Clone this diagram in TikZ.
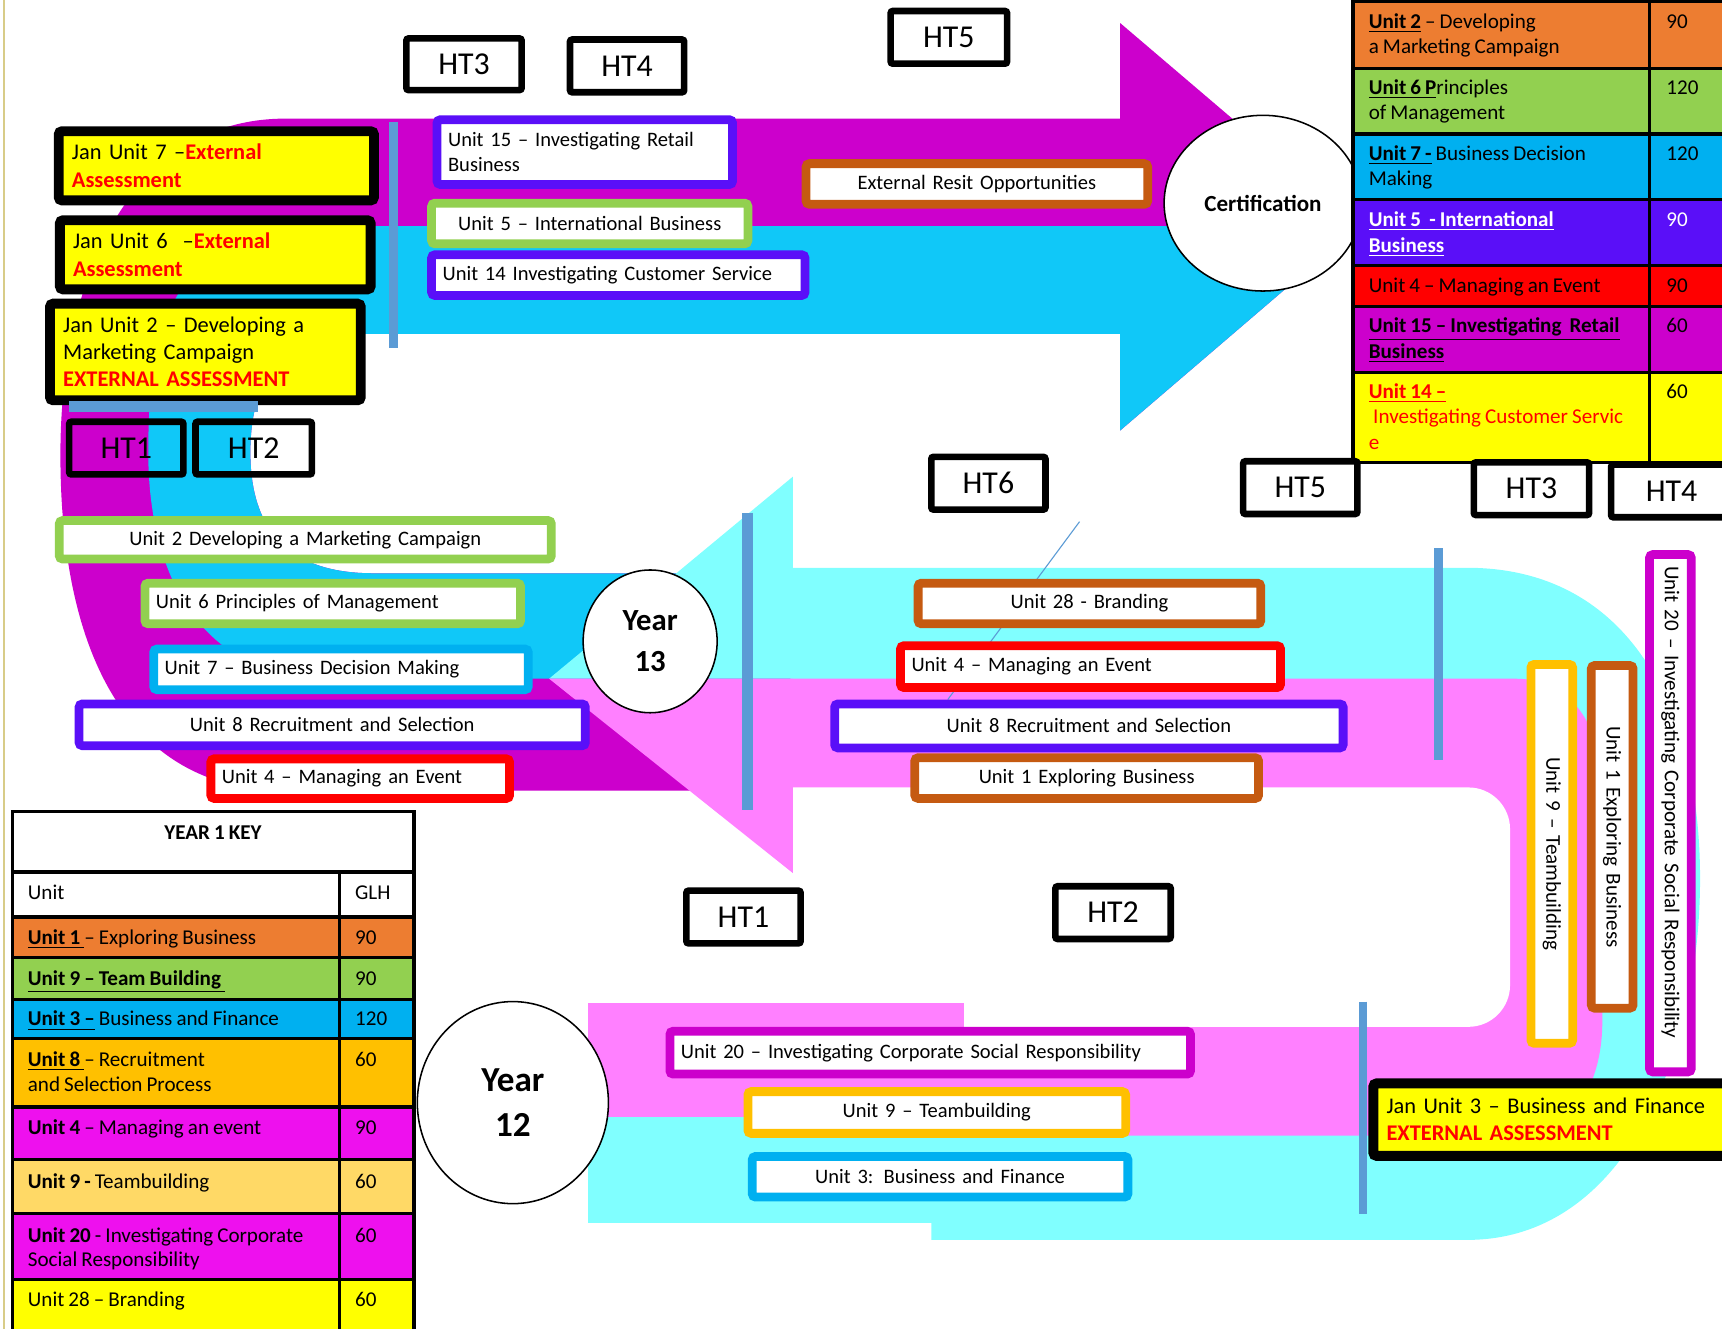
\documentclass[tikz,border=0pt]{standalone}
\usepackage{fontspec}
\setmainfont{Carlito}[WordSpace=0.85]
\usetikzlibrary{shapes.geometric}
\definecolor{amag}{HTML}{CC00CC}
\definecolor{acyan}{HTML}{10C8F8}
\definecolor{bcyan}{HTML}{80FFFF}
\definecolor{bpink}{HTML}{FF80FF}
\definecolor{bline}{HTML}{5B9BD5}
\definecolor{upurple}{HTML}{5A0FF8}
\definecolor{ugreen}{HTML}{92D050}
\definecolor{ublue}{HTML}{00B0F0}
\definecolor{ured}{HTML}{FF0000}
\definecolor{ubrown}{HTML}{C55A11}
\definecolor{uamber}{HTML}{FFC000}
\definecolor{korange}{HTML}{ED7D31}
\definecolor{kmag}{HTML}{EE10EE}
\definecolor{klight}{HTML}{FFD966}
\definecolor{kyellow}{HTML}{FFFF00}
\definecolor{pageedge}{HTML}{D8CC88}
\newcommand\myBF{\fontsize{9.35}{11.5}\selectfont}
\newcommand\myVF{\fontsize{9.6}{11.5}\selectfont}
\newcommand\myJF{\fontsize{10.2}{12.4}\selectfont}
\newcommand\myHF{\fontsize{14.5}{17}\selectfont}
\newcommand\myTF{\fontsize{9.6}{11.5}\selectfont}
\newcommand\myYF{\fontsize{14}{18.5}\selectfont\bfseries}
\newcommand\myYFb{\fontsize{16}{20.5}\selectfont\bfseries}
\newcommand\myCF{\fontsize{10.5}{12}\selectfont\bfseries}
% unit box: name x1 y1 x2 y2 colour align text
\newcommand\myUB[8]{%
  \pgfmathsetlengthmacro\myTW{(#4-#2-28)*0.5pt}%
  \pgfmathsetlengthmacro\myMW{(#4-#2-8)*0.5pt}%
  \pgfmathsetlengthmacro\myMH{(#5-#3-8)*0.5pt}%
  \node[ubox, draw=#6, align=#7, text width=\myTW, minimum width=\myMW, minimum height=\myMH] (#1) at ({(#2+#4)/2},{(#3+#5)/2}) {#8};}
% vertical unit box
\newcommand\myVB[8]{%
  \pgfmathsetlengthmacro\myTW{(#5-#3-28)*0.5pt}%
  \pgfmathsetlengthmacro\myMW{(#5-#3-8)*0.5pt}%
  \pgfmathsetlengthmacro\myMH{(#4-#2-8)*0.5pt}%
  \node[ubox, font=\myVF, draw=#6, rotate=-90, align=center, text width=\myTW, minimum width=\myMW, minimum height=\myMH] (#1) at ({(#2+#4)/2},{(#3+#5)/2}) {\hspace*{#7}#8};}
% Jan box
\newcommand\myJB[6]{%
  \pgfmathsetlengthmacro\myTW{(#4-#2-33)*0.5pt}%
  \pgfmathsetlengthmacro\myMW{(#4-#2-9)*0.5pt}%
  \pgfmathsetlengthmacro\myMH{(#5-#3-9)*0.5pt}%
  \node[jbox, text width=\myTW, minimum width=\myMW, minimum height=\myMH] (#1) at ({(#2+#4)/2},{(#3+#5)/2}) {#6};}
% HT box
\newcommand\myHT[7]{%
  \pgfmathsetlengthmacro\myMW{(#4-#2-6)*0.5pt}%
  \pgfmathsetlengthmacro\myMH{(#5-#3-6)*0.5pt}%
  \node[htbox, fill=#6, minimum width=\myMW, minimum height=\myMH] (#1) at ({(#2+#4)/2},{(#3+#5)/2}) {#7};}
\begin{document}
\begin{tikzpicture}[x=0.5pt,y=-0.5pt,
  ubox/.style={fill=white, line width=4pt, rounded corners=1.5pt, inner xsep=5pt, inner ysep=0pt, font=\myBF},
  jbox/.style={fill=kyellow, draw=black, line width=4.5pt, rounded corners=1.5pt, inner xsep=6pt, inner ysep=0pt, font=\myJF, align=left},
  htbox/.style={draw=black, line width=3pt, rounded corners=1pt, inner sep=0pt, font=\myHF},
  tx/.style={inner sep=0pt, anchor=base west, font=\myTF},
  circ/.style={ellipse, draw=black, line width=0.7pt, fill=white, inner sep=1pt, align=center},
  bluebar/.style={draw=bline, line width=4pt},
  tline/.style={draw=black, line width=1.4pt}]
\useasboundingbox (0,0) rectangle (1568,1210);
\fill[white] (0,0) rectangle (1568,1210);
\draw[pageedge, line width=1pt] (4,0) -- (4,1210);

% ---------- shape A (dark U-turn arrow, pointing right) ----------
\fill[amag] (1020,108) -- (260,108) .. controls (120,108) and (55,250) .. (55,414)
  .. controls (55,600) and (120,720) .. (260,720) -- (720,720) -- (720,522) -- (340,522)
  .. controls (260,522) and (228,480) .. (228,412) .. controls (228,340) and (260,304) .. (340,304)
  -- (1020,304) -- cycle;
\fill[amag] (1020,21) -- (1237,206) -- (1020,392) -- cycle;
\fill[acyan] (1022,206) -- (300,206) .. controls (160,206) and (135,290) .. (135,412)
  .. controls (135,520) and (180,618) .. (300,618) -- (720,618) -- (720,522) -- (340,522)
  .. controls (260,522) and (228,480) .. (228,412) .. controls (228,340) and (260,304) .. (340,304)
  -- (1022,304) -- cycle;
\fill[acyan] (1020,206) -- (1237,206) -- (1020,392) -- cycle;

% ---------- shape B (light U-turn arrow, pointing left) ----------
\fill[bcyan] (720,517) -- (1336,517) .. controls (1480,517) and (1548,640) .. (1548,800)
  .. controls (1548,960) and (1480,1129) .. (1336,1129) -- (848,1129) -- (848,935) -- (720,935) -- cycle;
\fill[bpink] (720,618) -- (1380,618) .. controls (1430,618) and (1459,660) .. (1459,720)
  -- (1459,930) .. controls (1459,990) and (1430,1034) .. (1380,1034) -- (878,1034) -- (878,935) -- (720,935) -- cycle;
\fill[white] (718,717) -- (1337,717) .. controls (1358,717) and (1375,734) .. (1375,755)
  -- (1375,897) .. controls (1375,918) and (1358,935) .. (1337,935) -- (718,935) -- cycle;
\fill[bcyan] (722,434) -- (500,618) -- (722,618) -- cycle;
\fill[bpink] (500,618) -- (722,795) -- (722,618) -- cycle;
\fill[bcyan] (535,1015) rectangle (878,1114);
\fill[bpink] (535,913) rectangle (878,1017);

% ---------- blue bars ----------
\draw[bluebar] (358,111) -- (358,317);
\draw[bluebar, line width=5pt] (681,467) -- (681,738);
\draw[bluebar] (1310,499) -- (1310,692);
\draw[bluebar] (1241,912) -- (1241,1105);
\coordinate (t1) at (983,475);
\coordinate (t2) at (863,637);
\draw[bline, line width=0.5pt] (t1) -- (t2);

% ---------- circles ----------
\node[circ, minimum width=61pt, minimum height=65pt, font=\myYF] (y13) at (592,584) {Year\\13};
\node[circ, minimum width=87pt, minimum height=92pt, font=\myYFb] (y12) at (467,1004) {Year\\12};
\node[circ, minimum width=90pt, minimum height=80pt, font=\myCF] (cert) at (1150,185) {Certification};

% ---------- top right table ----------
\fill[korange] (1232,0) rectangle (1580,62);
\fill[ugreen] (1232,62) rectangle (1580,122);
\fill[ublue] (1232,122) rectangle (1580,182);
\fill[upurple] (1232,182) rectangle (1580,242);
\fill[ured] (1232,242) rectangle (1580,279);
\fill[amag] (1232,279) rectangle (1580,339);
\fill[kyellow] (1232,339) rectangle (1580,421);
\foreach \yy in {1.5,62,122,182,242,279,339,421} \draw[tline] (1232,\yy) -- (1580,\yy);
\draw[tline] (1232,0) -- (1232,421);
\draw[tline] (1502,0) -- (1502,421);
\node[tx] (r1a) at (1246,26) {\underline{\textbf{Unit 2}} – Developing};
\node[tx] (r1b) at (1246,49) {a Marketing Campaign};
\node[tx] (r1c) at (1517,26) {90};
\node[tx] (r2a) at (1246,86) {\underline{\textbf{Unit 6 P}}rinciples};
\node[tx] (r2b) at (1246,109) {of Management};
\node[tx] (r2c) at (1517,86) {120};
\node[tx] (r3a) at (1246,146) {\underline{\textbf{Unit 7 -}} Business Decision};
\node[tx] (r3b) at (1246,169) {Making};
\node[tx] (r3c) at (1517,146) {120};
\node[tx, text=white] (r4a) at (1246,206) {\underline{\textbf{Unit 5\ \ - International}}};
\node[tx, text=white] (r4b) at (1246,230) {\underline{\textbf{Business}}};
\node[tx, text=white] (r4c) at (1517,206) {90};
\node[tx] (r5a) at (1246,266) {Unit 4 – Managing an Event};
\node[tx] (r5c) at (1517,266) {90};
\node[tx] (r6a) at (1246,303) {\underline{\textbf{Unit 15 – Investigating\ \ Retail}}};
\node[tx] (r6b) at (1246,326) {\underline{\textbf{Business}}};
\node[tx] (r6c) at (1517,303) {60};
\node[tx, text=ured] (r7a) at (1246,363) {\underline{\textbf{Unit 14 –}}};
\node[tx, text=ured] (r7b) at (1250,386) {Investigating Customer Servic};
\node[tx, text=ured] (r7d) at (1246,409) {e};
\node[tx] (r7c) at (1517,363) {60};

% ---------- key table ----------
\fill[white] (11,739) rectangle (377,835);
\fill[korange] (11,835) rectangle (377,872);
\fill[ugreen] (11,872) rectangle (377,910);
\fill[ublue] (11,910) rectangle (377,946);
\fill[uamber] (11,946) rectangle (377,1008);
\fill[kmag] (11,1008) rectangle (377,1056);
\fill[klight] (11,1056) rectangle (377,1105);
\fill[kmag] (11,1105) rectangle (377,1165);
\fill[kyellow] (11,1165) rectangle (377,1215);
\foreach \yy in {739,794,835,872,910,946,1008,1056,1105,1165} \draw[tline] (11,\yy) -- (377,\yy);
\draw[tline] (11,738) -- (11,1215);
\draw[tline] (377,738) -- (377,1215);
\draw[tline] (309,794) -- (309,1215);
\node[tx, anchor=base, font=\myTF\bfseries] (khead) at (194,764) {YEAR 1 KEY};
\node[tx] (kh1) at (25,819) {Unit};
\node[tx] (kh2) at (323,819) {GLH};
\node[tx] (k1) at (25,860) {\underline{\textbf{Unit 1\ }}– Exploring Business};
\node[tx] (k1g) at (323,860) {90};
\node[tx] (k2) at (25,897) {\underline{\textbf{Unit 9 – Team Building\ }}};
\node[tx] (k2g) at (323,897) {90};
\node[tx] (k3) at (25,934) {\underline{\textbf{Unit 3 –}} Business and Finance};
\node[tx] (k3g) at (323,934) {120};
\node[tx] (k4a) at (25,971) {\underline{\textbf{Unit 8\ }}– Recruitment};
\node[tx] (k4b) at (25,994) {and Selection Process};
\node[tx] (k4g) at (323,971) {60};
\node[tx] (k5) at (25,1033) {\textbf{Unit 4} – Managing an event};
\node[tx] (k5g) at (323,1033) {90};
\node[tx] (k6) at (25,1082) {\textbf{Unit 9 -} Teambuilding};
\node[tx] (k6g) at (323,1082) {60};
\node[tx] (k7a) at (25,1131) {\textbf{Unit 20} - Investigating Corporate};
\node[tx] (k7b) at (25,1153) {Social Responsibility};
\node[tx] (k7g) at (323,1131) {60};
\node[tx] (k8) at (25,1190) {Unit 28 – Branding};
\node[tx] (k8g) at (323,1190) {60};

% ---------- unit boxes ----------
\myUB{u15}{394}{105}{671}{172}{upurple}{left}{\mbox{Unit 15 – Investigating Retail}\\Business}
\myUB{u5}{389}{181}{685}{226}{ugreen}{center}{\mbox{Unit 5 – International Business}}
\myUB{u14}{389}{228}{737}{273}{upurple}{left}{\mbox{Unit 14 Investigating Customer Service}}
\myUB{resit}{730}{145}{1049}{190}{ubrown}{center}{\mbox{External Resit Opportunities}}
\myUB{u2}{50}{470}{506}{513}{ugreen}{center}{\mbox{Unit 2 Developing a Marketing Campaign}}
\myUB{u6}{128}{527}{478}{572}{ugreen}{left}{\mbox{Unit 6 Principles of Management}}
\myUB{u7}{136}{587}{485}{632}{ublue}{left}{\mbox{Unit 7 – Business Decision Making}}
\myUB{u8a}{68}{637}{537}{683}{upurple}{center}{\mbox{Unit 8 Recruitment and Selection}}
\myUB{u4a}{188}{687}{468}{731}{ured}{left}{\mbox{Unit 4 – Managing an Event}}
\myUB{u28}{832}{527}{1152}{572}{ubrown}{center}{\mbox{Unit 28 - Branding}}
\myUB{u4b}{816}{584}{1170}{630}{ured}{left}{\mbox{Unit 4 – Managing an Event}}
\myUB{u8b}{756}{637}{1227}{685}{upurple}{center}{\mbox{Unit 8 Recruitment and Selection}}
\myUB{u1}{829}{686}{1150}{731}{ubrown}{center}{\mbox{Unit 1 Exploring Business}}
\myUB{u20}{606}{935}{1088}{982}{amag}{left}{\mbox{Unit 20 – Investigating Corporate Social Responsibility}}
\myUB{u9}{677}{990}{1029}{1036}{uamber}{center}{\mbox{Unit 9 – Teambuilding}}
\myUB{u3}{681}{1049}{1031}{1094}{ublue}{center}{\mbox{Unit 3: Business and Finance}}
\myVB{v9}{1390}{601}{1436}{954}{uamber}{0pt}{\mbox{Unit 9 – Teambuilding}}
\myVB{v1}{1445}{602}{1491}{922}{ubrown}{0pt}{\mbox{Unit 1 Exploring Business}}
\myVB{v20}{1498}{501}{1544}{980}{amag}{-10pt}{\mbox{Unit 20 – Investigating Corporate Social Responsibility}}

% ---------- Jan boxes ----------
\myJB{j7}{49}{115}{345}{187}{\mbox{Jan Unit 7 –\textcolor{ured}{\textbf{External}}}\\\textcolor{ured}{\textbf{Assessment}}}
\myJB{j6}{50}{196}{342}{268}{\mbox{Jan Unit 6\ \ –\textcolor{ured}{\textbf{External}}}\\\textcolor{ured}{\textbf{Assessment}}}
\myJB{j2}{41}{272}{333}{369}{\mbox{Jan Unit 2 – Developing a}\\\mbox{Marketing Campaign}\\\mbox{\textcolor{ured}{\textbf{EXTERNAL ASSESSMENT}}}}
\myJB{j3}{1246}{982}{1580}{1057}{\mbox{Jan Unit 3 – Business and Finance}\\\mbox{\textcolor{ured}{\textbf{EXTERNAL ASSESSMENT}}}}
\draw[bluebar, line width=5pt] (63,370) -- (235,370);

% ---------- HT boxes ----------
\myHT{ht3a}{367}{32}{478}{85}{white}{HT3}
\myHT{ht4a}{516}{33}{626}{87}{white}{HT4}
\myHT{ht5a}{808}{7}{920}{61}{white}{HT5}
\myHT{ht1a}{60}{381}{170}{435}{none}{HT1}
\myHT{ht2a}{175}{381}{287}{435}{none}{HT2}
\myHT{ht6}{845}{413}{955}{467}{white}{HT6}
\myHT{ht5b}{1129}{417}{1239}{471}{white}{HT5}
\myHT{ht3b}{1339}{418}{1450}{472}{white}{HT3}
\myHT{ht4b}{1464}{420}{1580}{474}{white}{HT4}
\myHT{ht1b}{622}{808}{732}{862}{white}{HT1}
\myHT{ht2b}{958}{804}{1069}{858}{white}{HT2}
\end{tikzpicture}
\end{document}
